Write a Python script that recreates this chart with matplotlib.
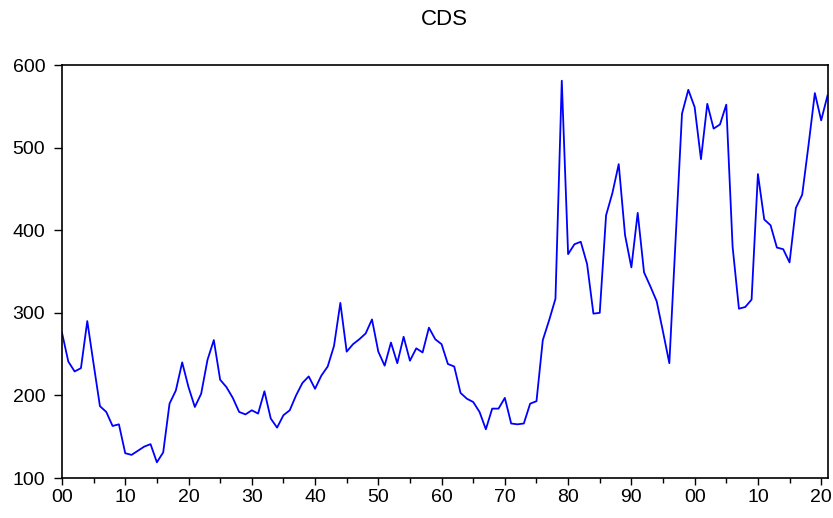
import matplotlib
matplotlib.use("Agg")
import matplotlib.pyplot as plt
from matplotlib.ticker import MultipleLocator, FixedLocator

plt.rcParams['font.family'] = ['Liberation Sans', 'DejaVu Sans']

# Annual CDS series, 1900-2021
years = list(range(1900, 2022))
cds = [
    276, 241, 229, 233, 290, 238, 187, 180, 163, 165,   # 1900s
    130, 128, 133, 138, 141, 119, 131, 190, 206, 240,   # 1910s
    210, 186, 202, 243, 267, 219, 210, 197, 180, 177,   # 1920s
    182, 178, 205, 172, 161, 176, 182, 200, 215, 223,   # 1930s
    208, 224, 235, 260, 312, 253, 262, 268, 275, 292,   # 1940s
    253, 236, 264, 239, 271, 242, 257, 252, 282, 268,   # 1950s
    262, 238, 235, 203, 196, 192, 180, 159, 184, 184,   # 1960s
    197, 166, 165, 166, 190, 193, 267, 291, 317, 581,   # 1970s
    371, 383, 386, 359, 299, 300, 418, 445, 480, 394,   # 1980s
    355, 421, 349, 332, 314, 277, 239, 390, 541, 570,   # 1990s
    549, 486, 553, 523, 528, 552, 380, 305, 307, 316,   # 2000s
    468, 413, 406, 379, 377, 361, 427, 443, 503, 566,   # 2010s
    533, 563,                                           # 2020s
]

y_ticks = [100, 200, 300, 400, 500, 600]
x_major = list(range(1900, 2021, 10))
x_labels = [f"{y % 100:02d}" for y in x_major]

fig = plt.figure(figsize=(8.33, 5.18), dpi=100)
ax = fig.add_axes([0.0744, 0.0772, 0.919, 0.7973])

ax.plot(years, cds, color='#0000ff', linewidth=1.3)

ax.set_xlim(1900, 2021)
ax.set_ylim(100, 600)
ax.yaxis.set_major_locator(FixedLocator(y_ticks))
ax.xaxis.set_major_locator(FixedLocator(x_major))
ax.xaxis.set_minor_locator(MultipleLocator(5))
ax.set_xticklabels(x_labels)

ax.tick_params(axis='both', which='major', direction='out', width=1,
               labelsize=14, colors='black')
ax.tick_params(axis='y', which='major', length=6, pad=6)
ax.tick_params(axis='x', which='major', length=5, pad=3)
ax.tick_params(axis='x', which='minor', direction='out', length=3.5, width=1)

for side in ['left', 'bottom', 'top', 'right']:
    ax.spines[side].set_color('black')
    ax.spines[side].set_linewidth(1.2)

fig.text(0.533, 0.963, 'CDS', ha='center', va='center', fontsize=16)

fig.savefig('out.png', dpi=100)
